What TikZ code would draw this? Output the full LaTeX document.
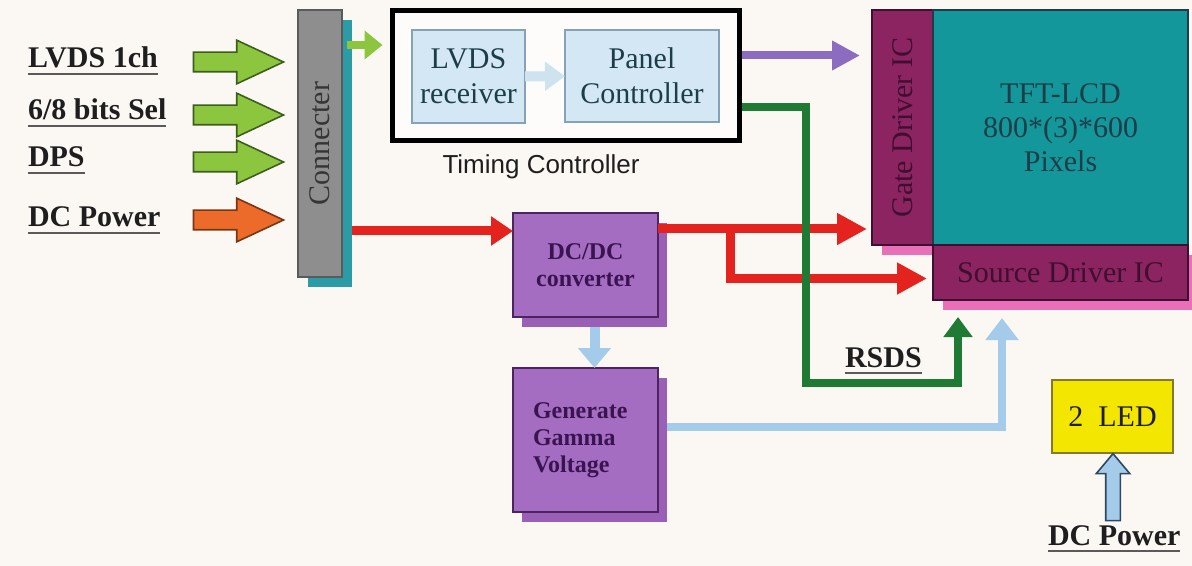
\documentclass[tikz,border=0pt]{standalone}
\usepackage{fontspec}
\setmainfont{Liberation Serif}
\newfontfamily\tcsans{Liberation Sans}
\usetikzlibrary{arrows.meta,shapes.arrows,shadows}

\definecolor{bgc}{HTML}{FBF8F4}
\definecolor{inktext}{HTML}{1E1E1E}
\definecolor{ulgray}{HTML}{5A5A5A}
\definecolor{ingreen}{HTML}{8CC63F}
\definecolor{ingreenb}{HTML}{3E5E1E}
\definecolor{inorange}{HTML}{EC6A2A}
\definecolor{inorangeb}{HTML}{7A3512}
\definecolor{conngray}{HTML}{8E8E8E}
\definecolor{connteal}{HTML}{2B9BA6}
\definecolor{rxblue}{HTML}{D3E8F4}
\definecolor{rxblueb}{HTML}{86A2B6}
\definecolor{faintblue}{HTML}{CDE3EF}
\definecolor{gatec}{HTML}{8C2462}
\definecolor{gatetext}{HTML}{3E0F30}
\definecolor{pinkc}{HTML}{E970B8}
\definecolor{tftc}{HTML}{13979A}
\definecolor{tfttext}{HTML}{1D3E49}
\definecolor{violetc}{HTML}{8B6CC0}
\definecolor{redc}{HTML}{E4231F}
\definecolor{rsdsc}{HTML}{1F7A34}
\definecolor{boxc}{HTML}{A56DC2}
\definecolor{boxb}{HTML}{4C2462}
\definecolor{boxshadow}{HTML}{9A60B8}
\definecolor{boxtext}{HTML}{3A1450}
\definecolor{gammac}{HTML}{A5CBEA}
\definecolor{ledc}{HTML}{F3E600}
\definecolor{ledb}{HTML}{857A2A}
\definecolor{upfatb}{HTML}{2E4861}

\begin{document}
\begin{tikzpicture}[x=0.5pt,y=-0.5pt]
\tikzset{
  every node/.style={inner sep=0pt, outer sep=0pt},
  lbl/.style={anchor=base west, text=inktext, font=\fontsize{15pt}{18pt}\selectfont\bfseries},
  uline/.style={draw=ulgray, line width=1.3pt},
  fatarr/.style={single arrow, minimum height=45pt, inner ysep=4.5pt,
    single arrow head extend=6pt, single arrow tip angle=50, line width=0.8pt},
  serif15/.style={font=\fontsize{15pt}{17.5pt}\selectfont},
  purplebox/.style={fill=boxc, draw=boxb, line width=0.8pt, text=boxtext,
    minimum width=72.5pt, font=\fontsize{12pt}{13.5pt}\selectfont\bfseries,
    drop shadow={shadow xshift=4.5pt, shadow yshift=-5pt, fill=boxshadow, opacity=1}},
  pinkshadow/.style={drop shadow={shadow xshift=5pt, shadow yshift=-5pt, fill=pinkc, opacity=1}},
  redarr/.style={draw=redc, line width=4.5pt, -{Triangle[length=15pt, width=15pt]}},
}
\useasboundingbox (0,0) rectangle (1192,566);
\fill[bgc] (0,0) rectangle (1192,566);

% inputs
\node[lbl] (lvds) at (28,68) {LVDS 1ch};
\node[lbl] (bits) at (28,120) {6/8 bits Sel};
\node[lbl] (dps) at (28,167) {DPS};
\node[lbl] (dcin) at (28,227) {DC Power};
\node[fatarr, fill=ingreen, draw=ingreenb] (fa1) at (228,62) {};
\node[fatarr, fill=ingreen, draw=ingreenb] (fa2) at (228,115) {};
\node[fatarr, fill=ingreen, draw=ingreenb] (fa3) at (228,162) {};
\node[fatarr, fill=inorange, draw=inorangeb] (fa4) at (228,220) {};

% connecter
\node[fill=conngray, draw=ulgray, line width=0.8pt, minimum width=22pt, minimum height=133.5pt,
  serif15, text=inktext!90,
  drop shadow={shadow xshift=5pt, shadow yshift=-5pt, fill=connteal, opacity=1}]
  (conn) at (320,143.5) {\rotatebox{90}{Connecter}};

% timing controller
\node[draw=black, fill=white!60!bgc, line width=2.5pt, minimum width=173.5pt, minimum height=65pt]
  (tcon) at (566,75.5) {};
\node[fill=rxblue, draw=rxblueb, line width=0.8pt, minimum width=56.5pt, minimum height=46.5pt,
  serif15, text=tfttext, align=center] (lvdsrx) at (468.5,76.5) {LVDS\\receiver};
\node[fill=rxblue, draw=rxblueb, line width=0.8pt, minimum width=77pt, minimum height=46pt,
  serif15, text=tfttext, align=center] (panel) at (642,76) {Panel\\Controller};
\node[font=\tcsans\fontsize{13pt}{15pt}\selectfont, text=inktext] (tclbl) at (541,167) {Timing Controller};
\draw[draw=faintblue, line width=5pt, -{Triangle[length=10pt, width=14pt]}] (lvdsrx) -- (panel);

% panel
\node[fill=gatec, draw=gatetext, line width=0.8pt, minimum width=30.5pt, minimum height=117.5pt,
  serif15, text=gatetext, pinkshadow] (gate) at (902.5,127.5) {\rotatebox{90}{Gate Driver IC}};
\node[fill=tftc, draw=tfttext, line width=0.8pt, minimum width=127.5pt, minimum height=117.5pt,
  font=\fontsize{15pt}{17pt}\selectfont, text=tfttext, align=center]
  (tft) at (1060.5,127.5) {TFT-LCD\\800*(3)*600\\Pixels};
\node[fill=gatec, draw=gatetext, line width=0.8pt, minimum width=127.5pt, minimum height=27.5pt,
  serif15, text=gatetext, pinkshadow] (source) at (1060.5,272.5) {Source Driver IC};

% power
\node[purplebox, minimum height=52pt, align=center] (dcdc) at (585.5,265) {DC/DC\\converter};
\node[purplebox, minimum height=72pt, align=left, text width=52.5pt] (gamma) at (585.5,440)
  {Generate\\Gamma\\Voltage};

% backlight
\node[fill=ledc, draw=ledb, line width=0.8pt, minimum width=60.5pt, minimum height=36.5pt,
  serif15, text=inktext] (led) at (1112.5,416.5) {2\ \ LED};
\node[single arrow, rotate=90, minimum height=33.5pt, inner ysep=3.25pt,
  single arrow head extend=4.75pt, single arrow tip angle=80, line width=0.8pt,
  fill=gammac, draw=upfatb] (ledin) at (1113,491.5) {};
\node[lbl] (dcled) at (1048,545) {DC Power};
\node[lbl] (rsds) at (845,367) {RSDS};

\foreach \n in {lvds,bits,dps,dcin,rsds,dcled}
  \draw[uline] ([yshift=-3pt]\n.base west) -- ([yshift=-3pt]\n.base east);

% connectors
\draw[draw=ingreen, line width=4pt, -{Triangle[length=9pt, width=14pt]}, shorten >=5pt]
  ([xshift=2.5pt,yshift=-17.5pt]conn.north east) -- ([yshift=-17.5pt]conn.north east -| tcon.west);
\draw[draw=violetc, line width=4pt, -{Triangle[length=14pt, width=14pt]}, shorten >=6pt]
  ([xshift=1.25pt,yshift=10pt]tcon.east) -- ([yshift=10pt]tcon.east -| gate.west);
\draw[redarr, -{Triangle[length=11pt, width=14pt]}]
  ([xshift=5pt,yshift=-9pt]conn.east |- dcdc.north) -- ([yshift=-9pt]dcdc.north west);
\draw[redarr, shorten >=2.5pt] ([yshift=-8pt]dcdc.north east) -- ([yshift=-8pt]dcdc.north east -| gate.west);
\path ([yshift=-8pt]dcdc.north east) ++(72,0) coordinate (split);
\draw[redarr, shorten >=3pt] (split) |- ([yshift=-3pt]source.west);
\draw[draw=rsdsc, line width=4pt, -{Triangle[length=10pt, width=14pt]}]
  ([xshift=1.25pt,yshift=-16pt]tcon.east) -| ([xshift=-63.5pt,yshift=-41.5pt]source.south west)
  -| ([xshift=12.5pt,yshift=-8.5pt]source.south west);
\draw[draw=gammac, line width=5pt, -{Triangle[length=10pt, width=16pt]}]
  ([xshift=4.5pt,yshift=-5pt]dcdc.south) -- ([xshift=4.5pt]gamma.north);
\draw[draw=gammac, line width=4pt, -{Triangle[length=11pt, width=16pt]}]
  ([xshift=4.5pt,yshift=6.5pt]gamma.east) -| ([xshift=34.5pt,yshift=-9pt]source.south west);
\end{tikzpicture}
\end{document}
